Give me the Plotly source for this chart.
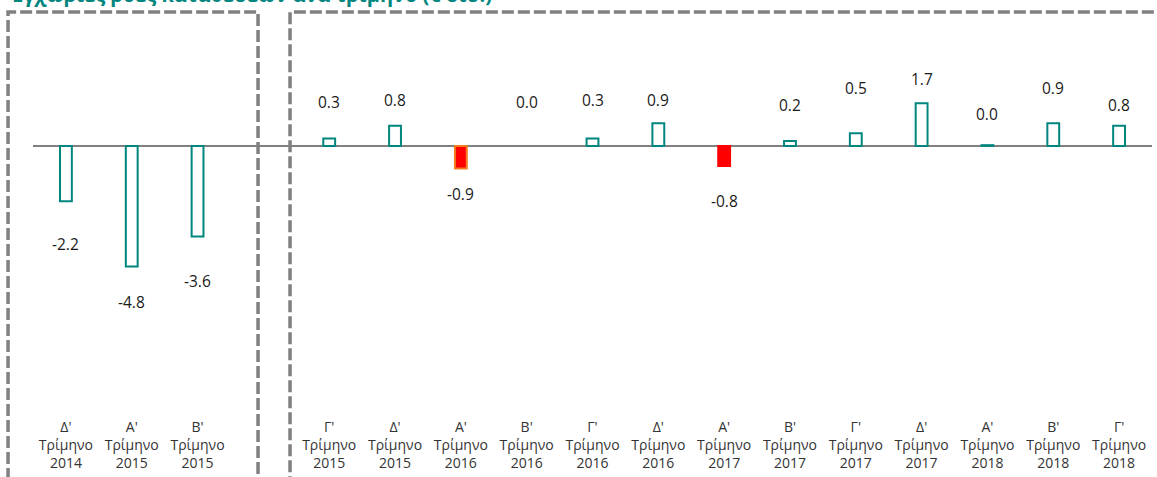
import plotly.graph_objects as go

# ---- data ----
quarters = ["Δ'", "Α'", "Β'", "", "Γ'", "Δ'", "Α'", "Β'", "Γ'", "Δ'", "Α'", "Β'", "Γ'", "Δ'", "Α'", "Β'", "Γ'"]
years = ["2014", "2015", "2015", "", "2015", "2015", "2016", "2016", "2016", "2016", "2017", "2017", "2017", "2017", "2018", "2018", "2018"]
values = [-2.2, -4.8, -3.6, None, 0.3, 0.8, -0.9, 0.0, 0.3, 0.9, -0.8, 0.2, 0.5, 1.7, 0.03, 0.9, 0.8]
highlighted = [False, False, False, False, False, False, True, False, False, False, True, False, False, False, False, False, False]
title_text = "Εγχώριες ροές καταθέσεων ανά τρίμηνο (€ δισ.)"

# label placement (data units) chosen to match the reference layout
label_pos = [-3.92, -6.2, -5.37, None, 1.73, 1.84, -1.92, 1.73, 1.84, 1.84, -2.2, 1.61, 2.31, 2.67, 1.29, 2.31, 1.61]

TEAL = "#00867F"
GRAY = "#808080"
FONT = "Open Sans"

cats = []
for i, (q, y) in enumerate(zip(quarters, years)):
    if q == "":
        cats.append(" " * (i + 1))
    else:
        cats.append(f"{q}<br>Τρίμηνο<br>{y}")

fill = ["#FF0000" if h else "white" for h in highlighted]
line_col = []
line_w = []
for i, (h, v) in enumerate(zip(highlighted, values)):
    if h:
        line_col.append("#F47C20" if i == 6 else "#FF0000")
    else:
        line_col.append(TEAL)
    line_w.append(0 if v == 0 else 2)

fig = go.Figure()
fig.add_trace(go.Bar(
    x=cats, y=values, width=0.18,
    marker=dict(color=fill, line=dict(color=line_col, width=line_w)),
    hoverinfo="skip", showlegend=False,
))

for c, v, lp in zip(cats, values, label_pos):
    if v is None:
        continue
    fig.add_annotation(x=c, y=lp, xref="x", yref="y", text=f"{v:.1f}", showarrow=False,
                       font=dict(family=FONT, size=15.5, color="#1a1a1a"))

# title (cut at top of page as in reference)
fig.add_annotation(x=-0.0205, y=1.044, xref="paper", yref="paper", xanchor="left", yanchor="middle",
                   text=f"<b>{title_text}</b>", showarrow=False,
                   font=dict(family=FONT, size=20, color=TEAL))

dash = dict(color=GRAY, width=3.5, dash="12px,4px")
# left dashed box
fig.add_shape(type="rect", xref="paper", yref="paper", x0=-0.0223, x1=0.2011, y0=-0.3, y1=1.0, line=dash)
# right dashed box
fig.add_shape(type="rect", xref="paper", yref="paper", x0=0.2297, x1=1.1, y0=-0.3, y1=1.0, line=dash)

fig.update_layout(
    width=1157, height=477,
    margin=dict(l=33, r=5, t=12, b=62),
    paper_bgcolor="white", plot_bgcolor="white",
    font=dict(family=FONT, size=14, color="#333333"),
    bargap=0.8,
    xaxis=dict(type="category", categoryorder="array", categoryarray=cats,
               showgrid=False, showline=False, ticks="", ticklabelstandoff=8,
               tickfont=dict(size=14, color="#333333")),
    yaxis=dict(range=[-10.47, 5.33], showgrid=False, showticklabels=False,
               zeroline=True, zerolinecolor=GRAY, zerolinewidth=2),
)

fig.write_html("out.html", config={"displayModeBar": False},
               post_script="document.body.style.margin='0';document.body.style.overflow='hidden';")
